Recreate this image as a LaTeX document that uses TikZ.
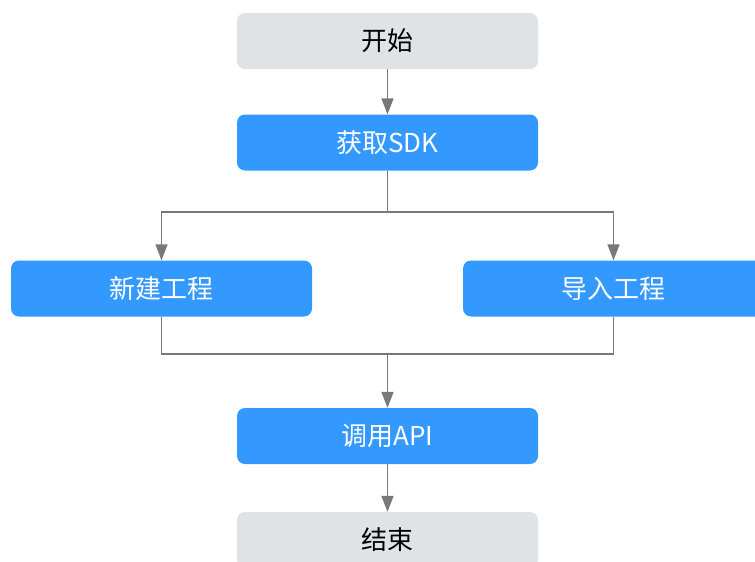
\documentclass[tikz,border=0pt]{standalone}
\usepackage{fontspec}
\setmainfont{Noto Sans CJK SC}
\usetikzlibrary{arrows.meta}
\definecolor{boxgray}{RGB}{224,227,230}
\definecolor{boxblue}{RGB}{51,153,255}
\definecolor{linegray}{RGB}{120,120,120}
\tikzset{
  box/.style={rounded corners=8pt,minimum width=301pt,minimum height=56pt,
    font=\fontsize{26}{30}\selectfont,inner sep=0pt},
  endbox/.style={box,fill=boxgray,text=black},
  stepbox/.style={box,fill=boxblue,text=white},
  conn/.style={draw=linegray,line width=1.6pt},
  arr/.style={conn,-{Triangle[width=12pt,length=16pt]}}
}
\begin{document}
\begin{tikzpicture}[x=1pt,y=-1pt]
        \clip (0,0) rectangle (755,562);
        \node[endbox] (start) at (387.5,41) {开始};
        \node[stepbox] (sdk) at (387.5,142.5) {获取SDK};
        \node[stepbox] (newproj) at (161.5,288.5) {新建工程};
        \node[stepbox] (impproj) at (613.5,288.5) {导入工程};
        \node[stepbox] (api) at (387.5,436) {调用API};
        \node[endbox] (finish) at (387.5,540) {结束};
        \coordinate (split) at (387.5,212);
        \coordinate (merge) at (387.5,354);

        \draw[arr] (start) -- (sdk);
        \draw[conn] (sdk) -- (split);
        \draw[arr] (split) -| (newproj);
        \draw[arr] (split) -| (impproj);
        \draw[conn] (newproj) |- (merge);
        \draw[conn] (impproj) |- (merge);
        \draw[arr] (merge) -- (api);
        \draw[arr] (api) -- (finish);
      \end{tikzpicture}
\end{document}
